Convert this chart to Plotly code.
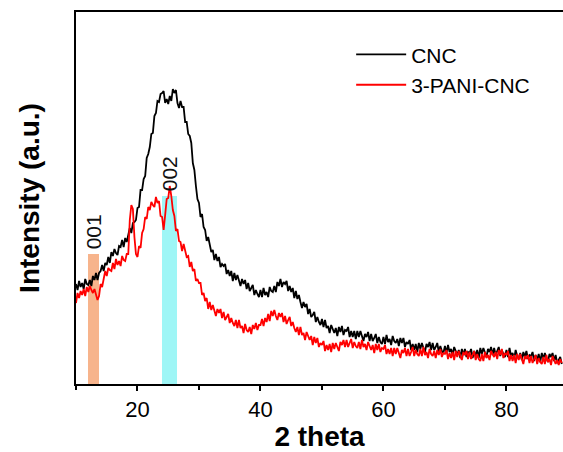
import plotly.graph_objects as go

# 2-theta grid: 10 .. 89 deg in 0.25 deg steps
theta_start = 10.0
theta_step = 0.25

cnc = [
    100, 94, 103, 97, 101, 95, 105, 100,
    99, 104, 98, 108, 104, 111, 104, 111,
    113, 119, 113, 121, 119, 127, 121, 132,
    128, 135, 131, 129, 138, 137, 144, 137,
    146, 142, 149, 156, 151, 161, 162, 164,
    176, 177, 194, 194, 205, 208, 226, 230,
    237, 250, 251, 268, 271, 283, 282, 290,
    291, 293, 281, 285, 280, 288, 283, 295,
    291, 294, 281, 276, 283, 277, 277, 262,
    262, 250, 248, 241, 221, 214, 198, 185,
    181, 167, 170, 157, 154, 143, 147, 138,
    132, 134, 124, 130, 123, 127, 117, 120,
    118, 120, 110, 114, 108, 113, 103, 111,
    104, 109, 103, 98, 105, 100, 104, 95,
    101, 93, 96, 99, 89, 94, 90, 87,
    94, 87, 96, 89, 92, 87, 97, 93,
    92, 98, 92, 102, 98, 105, 97, 102,
    100, 103, 93, 98, 92, 96, 86, 93,
    85, 89, 82, 76, 82, 77, 80, 70,
    75, 67, 69, 72, 62, 67, 62, 59,
    65, 57, 64, 56, 58, 51, 59, 54,
    51, 56, 48, 57, 52, 58, 49, 54,
    53, 57, 47, 53, 47, 53, 45, 53,
    47, 53, 47, 43, 50, 47, 52, 43,
    50, 43, 46, 50, 41, 47, 42, 40,
    47, 40, 49, 42, 45, 39, 48, 43,
    41, 45, 38, 46, 41, 46, 37, 42,
    40, 44, 34, 40, 34, 40, 32, 41,
    35, 41, 36, 32, 40, 37, 42, 34,
    41, 34, 37, 41, 32, 38, 33, 31,
    38, 31, 39, 32, 35, 29, 37, 32,
    29, 34, 26, 35, 29, 35, 27, 32,
    31, 35, 26, 33, 28, 34, 26, 36,
    30, 36, 31, 27, 35, 32, 37, 29,
    36, 29, 33, 37, 28, 34, 30, 27,
    34, 27, 36, 28, 31, 25, 34, 28,
    26, 31, 24, 32, 27, 33, 25, 29,
    28, 32, 23, 29, 24, 30, 22, 31,
    25, 31, 26, 22, 30, 27, 31, 23,
    29, 21, 24, 27, 20,
]

pani_cnc = [
    81, 91, 86, 93, 89, 95, 88, 97,
    92, 98, 94, 91, 95, 88, 84, 88,
    100, 97, 105, 113, 108, 116, 114, 113,
    121, 115, 125, 119, 123, 118, 128, 124,
    123, 130, 130, 164, 179, 175, 147, 130,
    127, 138, 136, 151, 155, 167, 165, 177,
    174, 182, 179, 177, 187, 181, 183, 168,
    167, 154, 169, 185, 186, 198, 188, 174,
    168, 153, 155, 143, 142, 133, 140, 132,
    127, 128, 117, 122, 113, 115, 103, 105,
    101, 101, 89, 91, 83, 86, 75, 82,
    74, 79, 73, 68, 75, 71, 75, 66,
    72, 64, 67, 70, 61, 66, 61, 58,
    64, 56, 64, 56, 58, 51, 60, 54,
    52, 57, 50, 59, 55, 61, 54, 59,
    59, 65, 58, 66, 62, 70, 63, 73,
    68, 74, 68, 64, 71, 67, 71, 62,
    68, 60, 64, 67, 58, 62, 56, 52,
    57, 49, 57, 49, 51, 44, 52, 47,
    44, 48, 39, 47, 41, 46, 37, 41,
    39, 43, 33, 39, 34, 40, 32, 41,
    35, 41, 37, 33, 42, 39, 44, 37,
    44, 37, 41, 45, 36, 42, 38, 36,
    42, 35, 44, 37, 40, 34, 42, 37,
    34, 39, 31, 40, 34, 40, 32, 36,
    35, 39, 30, 35, 30, 36, 28, 36,
    30, 36, 31, 26, 34, 31, 36, 28,
    35, 28, 32, 37, 28, 34, 30, 28,
    35, 28, 37, 29, 32, 26, 35, 30,
    28, 33, 26, 34, 29, 35, 27, 31,
    30, 34, 25, 31, 26, 32, 24, 33,
    27, 33, 28, 24, 32, 29, 33, 25,
    32, 25, 29, 33, 24, 30, 25, 23,
    30, 23, 32, 26, 29, 24, 33, 29,
    27, 32, 25, 34, 29, 35, 26, 31,
    29, 33, 23, 29, 23, 29, 21, 30,
    24, 30, 24, 20, 28, 25, 29, 21,
    28, 21, 25, 29, 20, 26, 22, 20,
    27, 20, 29, 22, 25, 19, 28, 23,
    20, 24, 19, 25, 21,
]

# reflection markers
peak_labels = ["001", "002"]
peak_center = [12.9, 25.25]
peak_width = [1.8, 2.4]
peak_height = [130, 188]
peak_colors = ["#F7B48C", "#9EF6F6"]

x_cnc = [theta_start + theta_step * i for i in range(len(cnc))]
x_pani = [theta_start + theta_step * i for i in range(len(pani_cnc))]

FONT = "Liberation Sans, Arial, sans-serif"

fig = go.Figure()
fig.add_trace(go.Bar(x=peak_center, y=peak_height, width=peak_width,
                     marker=dict(color=peak_colors, line=dict(width=0)),
                     showlegend=False, hoverinfo="skip"))
fig.add_trace(go.Scatter(x=x_cnc, y=cnc, mode="lines", name="CNC",
                         line=dict(color="black", width=1.8)))
fig.add_trace(go.Scatter(x=x_pani, y=pani_cnc, mode="lines", name="3-PANI-CNC",
                         line=dict(color="#FF0000", width=1.8)))

for lab, xc, h in zip(peak_labels, peak_center, peak_height):
    fig.add_annotation(x=xc, y=h, text=lab, showarrow=False, textangle=-90,
                       yanchor="bottom", xanchor="center", yshift=3,
                       font=dict(family=FONT, size=21, color="#111111"))

fig.update_layout(
    width=563, height=452,
    margin=dict(l=76, r=0, t=12, b=68, autoexpand=False),
    paper_bgcolor="white", plot_bgcolor="white",
    font=dict(family=FONT, color="black"),
    showlegend=True,
    legend=dict(x=0.565, y=0.94, xanchor="left", yanchor="top",
                itemwidth=50,
                font=dict(family=FONT, size=21, color="black"),
                bgcolor="rgba(0,0,0,0)", tracegroupgap=0),
    bargap=0,
)
fig.update_xaxes(range=[10, 89.2], showgrid=False, zeroline=False,
                 automargin=False,
                 showline=True, linecolor="black", linewidth=2, mirror=True,
                 ticks="outside", ticklen=5, tickwidth=1.5, tickcolor="black",
                 tickvals=[20, 40, 60, 80], ticktext=["20", "40", "60", "80"],
                 tickfont=dict(family=FONT, size=22, color="black"),
                 minor=dict(tickvals=[10, 30, 50, 70], ticks="outside",
                            ticklen=4, tickwidth=1.5, tickcolor="black"),
                 title=dict(text="<b>2 theta</b>", standoff=10,
                            font=dict(family=FONT, size=28, color="black")))
fig.update_yaxes(range=[0, 372], showgrid=False, zeroline=False,
                 automargin=False,
                 showline=True, linecolor="black", linewidth=2, mirror=False,
                 ticks="", showticklabels=False,
                 title=dict(text="<b>Intensity (a.u.)</b>", standoff=26,
                            font=dict(family=FONT, size=28, color="black")))

fig.write_html("out.html", config={"displayModeBar": False},
               post_script="document.body.style.margin='0px';")
